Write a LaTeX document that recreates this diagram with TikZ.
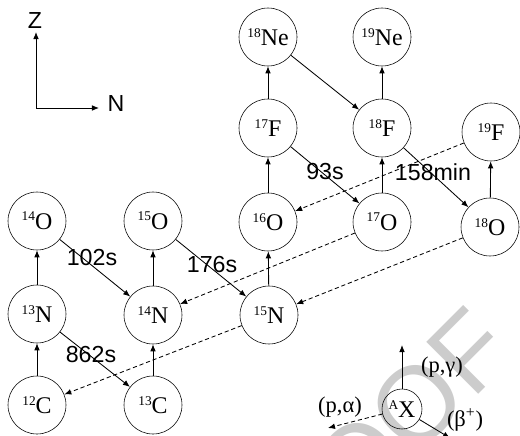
\documentclass[tikz,border=0pt]{standalone}
\usepackage{fontspec}
\setmainfont{Liberation Serif}
\setsansfont{Liberation Sans}
\usetikzlibrary{arrows.meta}

\definecolor{wmgray}{gray}{0.8}
\newcommand{\iso}[2]{\raisebox{0.36em}{\fontsize{9.5}{10}\selectfont #1}#2}

\tikzset{
  nuc/.style={draw, circle, minimum size=1.45cm, inner sep=0pt, font=\fontsize{17}{19}\selectfont},
  halflife/.style={inner sep=0pt, font=\sffamily\fontsize{16.5}{18}\selectfont},
  reac/.style={inner sep=0pt, font=\fontsize{16}{18}\selectfont},
  pg/.style={-{Latex[length=5pt,width=4pt]}, line width=0.6pt},
  pa/.style={-{Latex[length=5pt,width=4pt]}, line width=0.6pt, dash pattern=on 3pt off 2pt}
}

\begin{document}
\begin{tikzpicture}
      \clip (0,0) rectangle (13,10.875);

      % watermark
      \node[rotate=45, anchor=base east, inner sep=0pt, text=wmgray,
        font=\sffamily\fontsize{76}{80}\selectfont] (wmark) at (12.975,2.025) {PROOF};

      % axes
      \coordinate (origin) at (0.9,8.175);
      \coordinate (ztip) at (0.9,10.075);
      \coordinate (ntip) at (2.475,8.175);
      \draw[pg] (origin) -- (ztip);
      \draw[pg] (origin) -- (ntip);
      \node[halflife] (zlab) at (0.875,10.35) {Z};
      \node[halflife] (nlab) at (2.9,8.29) {N};

      % nuclei
      \node[nuc] (C12) at (0.925,0.75) {\iso{12}{C}};
      \node[nuc] (C13) at (3.825,0.75) {\iso{13}{C}};
      \node[nuc] (N13) at (0.925,3.025) {\iso{13}{N}};
      \node[nuc] (N14) at (3.825,3.0) {\iso{14}{N}};
      \node[nuc] (N15) at (6.725,3.0) {\iso{15}{N}};
      \node[nuc] (O14) at (0.925,5.35) {\iso{14}{O}};
      \node[nuc] (O15) at (3.825,5.35) {\iso{15}{O}};
      \node[nuc] (O16) at (6.7,5.325) {\iso{16}{O}};
      \node[nuc] (O17) at (9.55,5.325) {\iso{17}{O}};
      \node[nuc] (O18) at (12.25,5.2) {\iso{18}{O}};
      \node[nuc] (F17) at (6.7,7.675) {\iso{17}{F}};
      \node[nuc] (F18) at (9.55,7.675) {\iso{18}{F}};
      \node[nuc] (F19) at (12.275,7.575) {\iso{19}{F}};
      \node[nuc] (Ne18) at (6.7,9.95) {\iso{18}{Ne}};
      \node[nuc] (Ne19) at (9.55,9.95) {\iso{19}{Ne}};

      % (p,gamma)
      \draw[pg] (C12) -- (N13);
      \draw[pg] (N13) -- (O14);
      \draw[pg] (C13) -- (N14);
      \draw[pg] (N14) -- (O15);
      \draw[pg] (N15) -- (O16);
      \draw[pg] (O16) -- (F17);
      \draw[pg] (F17) -- (Ne18);
      \draw[pg] (O17) -- (F18);
      \draw[pg] (F18) -- (Ne19);
      \draw[pg] (O18) -- (F19);

      % beta+
      \draw[pg] (O14) -- (N14);
      \draw[pg] (N13) -- (C13);
      \draw[pg] (O15) -- (N15);
      \draw[pg] (F17) -- (O17);
      \draw[pg] (Ne18) -- (F18);
      \draw[pg] (F18) -- (O18);

      % (p,alpha)
      \draw[pa] (N15) -- (C12);
      \draw[pa] (O17) -- (N14);
      \draw[pa] (O18) -- (N15);
      \draw[pa] (F19) -- (O16);

      % half-lives
      \node[halflife] (t102) at (2.3,4.425) {102s};
      \node[halflife] (t176) at (5.3,4.25) {176s};
      \node[halflife] (t862) at (2.275,2.0) {862s};
      \node[halflife] (t93) at (8.125,6.575) {93s};
      \node[halflife] (t158) at (10.825,6.575) {158min};

      % key
      \node[nuc, minimum size=1.0cm] (AX) at (10.05,0.65) {\iso{A}{X}};
      \coordinate (pgtip) at (10.05,2.25);
      \coordinate (patip) at (8.2,0.175);
      \coordinate (betatip) at (11.25,-0.075);
      \draw[pg] (AX) -- (pgtip);
      \draw[pa] (AX) -- (patip);
      \draw[pg] (AX) -- (betatip);
      \node[reac] (pglab) at (11.05,1.7) {(p,γ)};
      \node[reac] (palab) at (8.5,0.7) {(p,α)};
      \node[reac] (betalab) at (11.625,0.375) {(β\textsuperscript{+})};
\end{tikzpicture}
\end{document}
